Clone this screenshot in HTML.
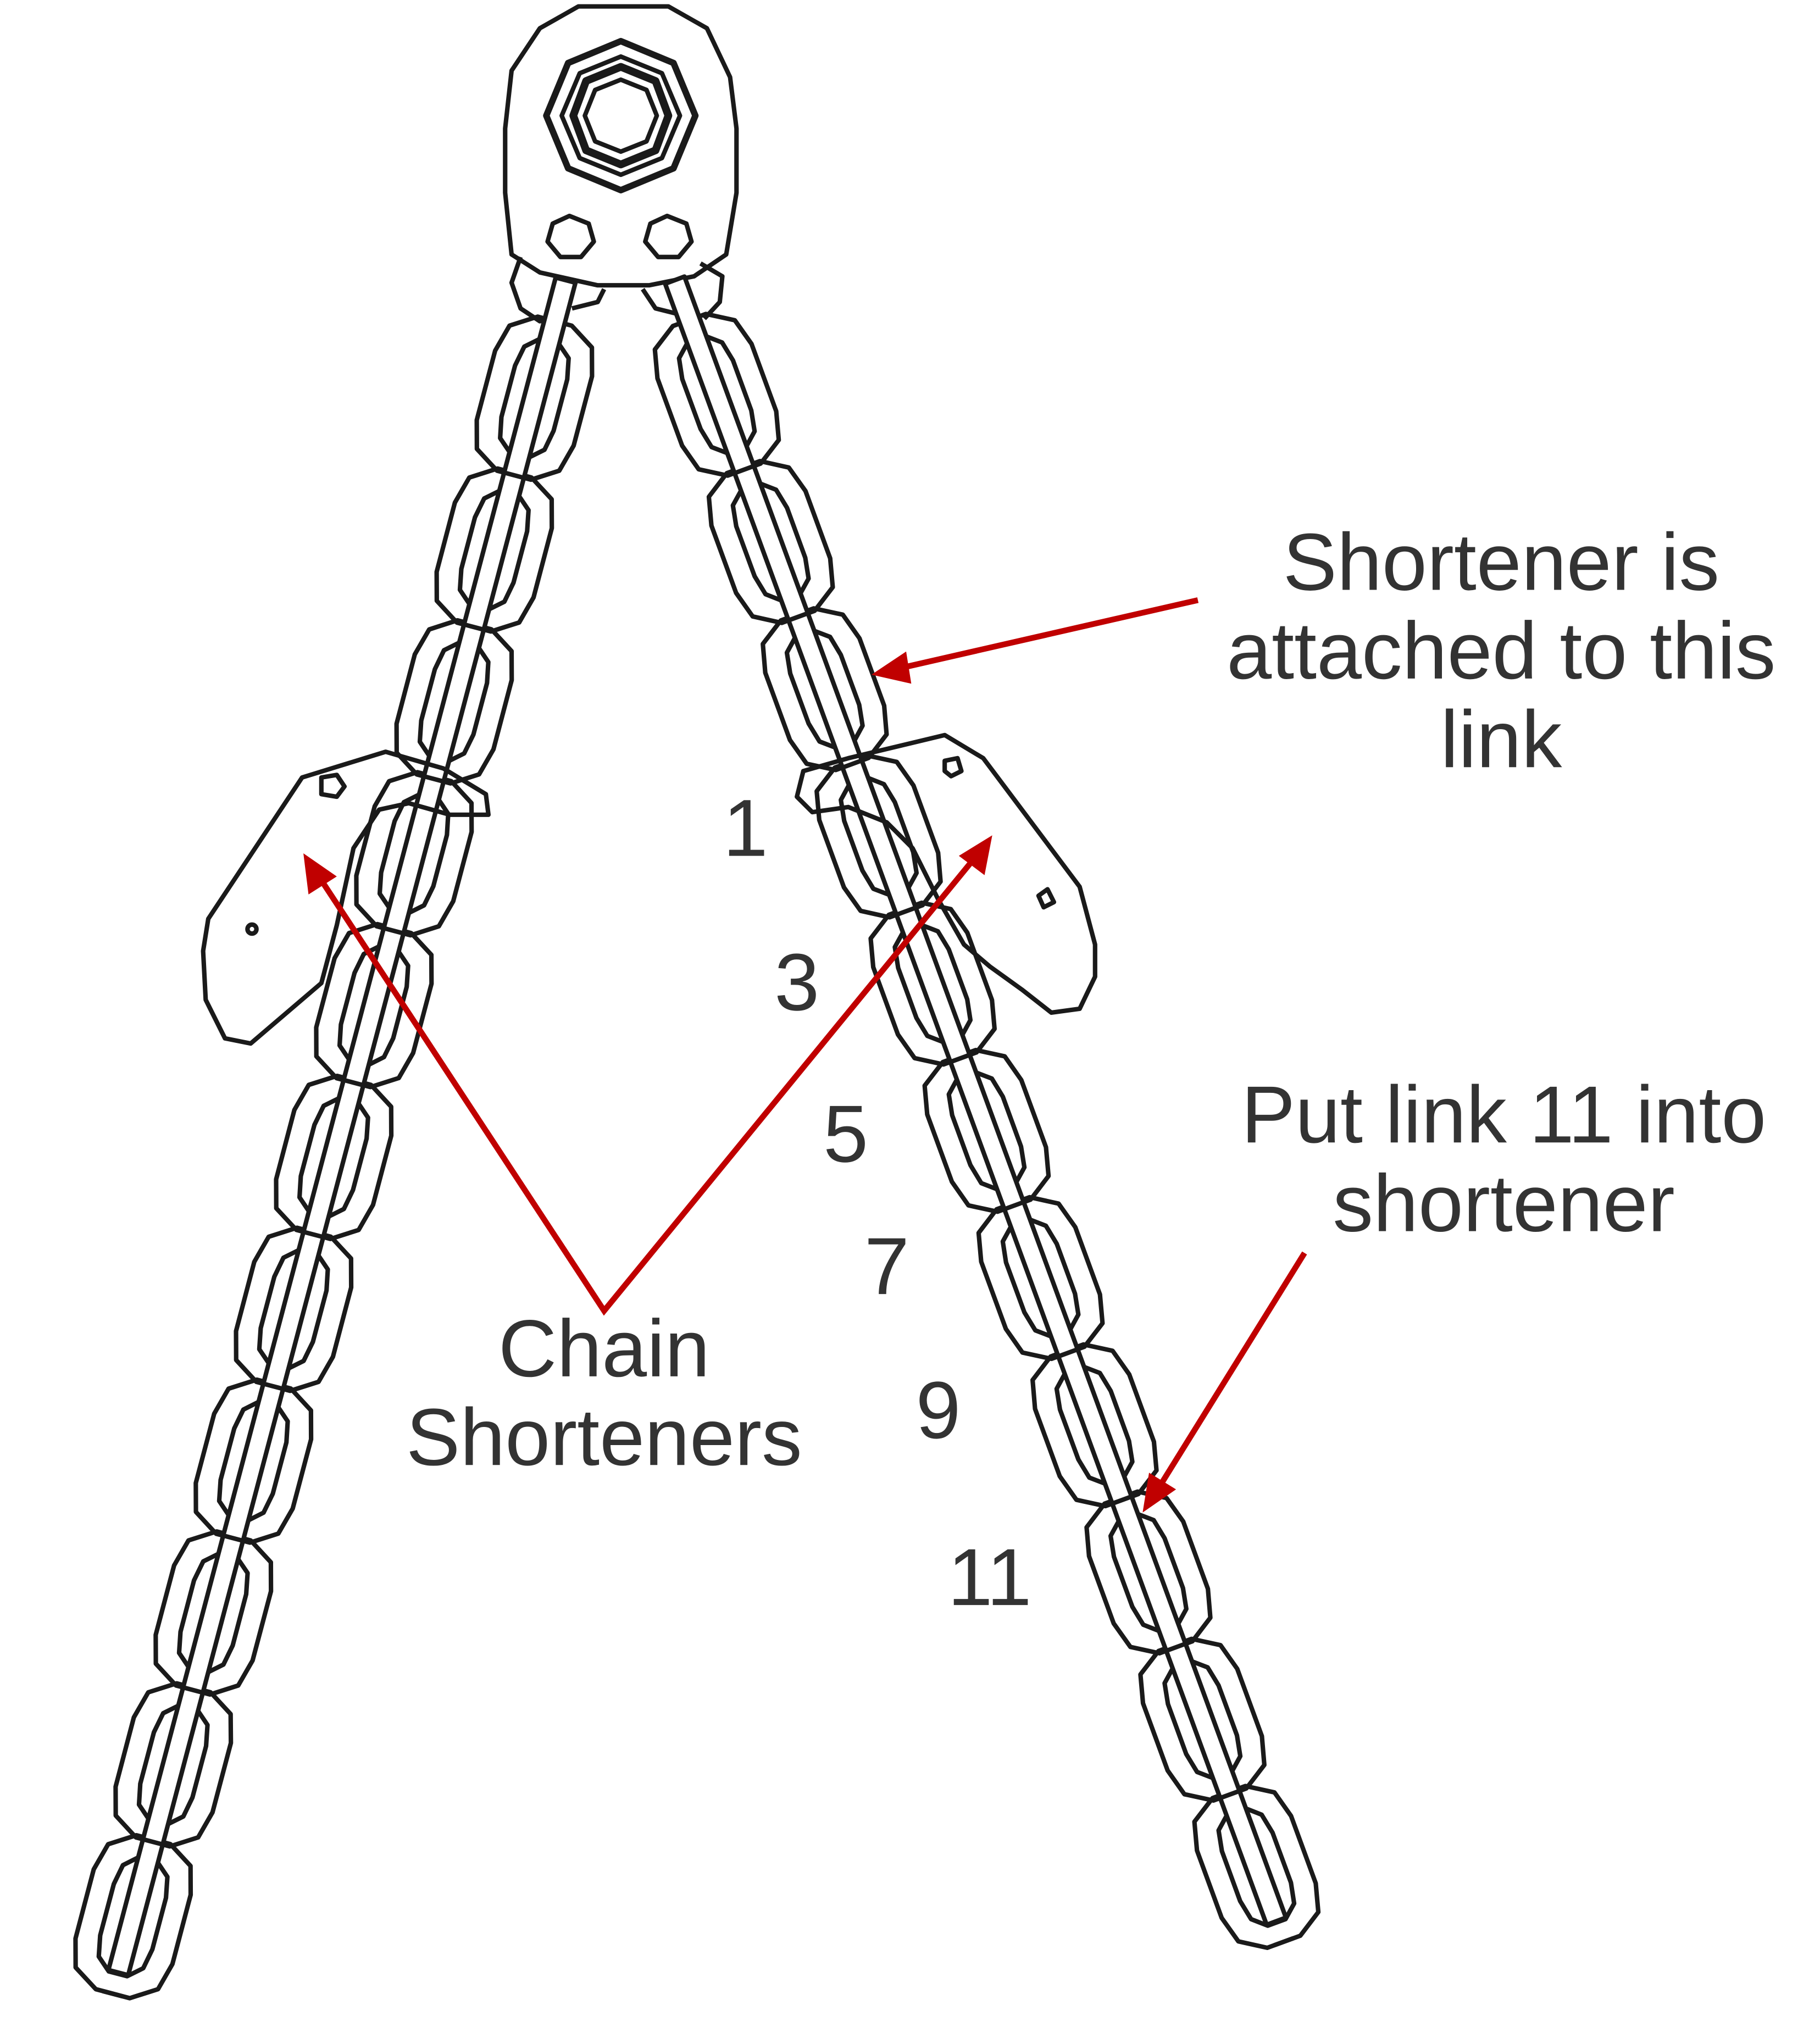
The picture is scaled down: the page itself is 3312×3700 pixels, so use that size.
<!DOCTYPE html>
<html><head><meta charset="utf-8"><style>
html,body{margin:0;padding:0;background:#fff;}
svg{display:block;}
text{font-family:"Liberation Sans",sans-serif;fill:#333;}
</style></head><body>
<svg id="s" width="3312" height="3700" viewBox="0 0 1416 1582" xmlns="http://www.w3.org/2000/svg">
<g fill="none" stroke="#1a1a1a" stroke-width="3.5" stroke-linejoin="round">
  <path d="M420,22 L450,5 L520,5 L550,22 L568,60 L573,100 L573,150 L565,198 L540,215 L505,222 L465,222 L420,212 L398,198 L393,150 L393,100 L398,55 Z" fill="#fff"/>
  <polygon points="483,32 524,49 541,90 524,131 483,148 442,131 425,90 442,49" stroke-width="5"/>
  <polygon points="483,44 515,57 529,90 515,123 483,136 451,123 437,90 451,57"/>
  <polygon points="483,52 510,63 520,90 510,117 483,128 456,117 446,90 456,63" stroke-width="6"/>
  <polygon points="483,62 503,70 511,90 503,110 483,118 463,110 455,90 463,70"/>
  <polygon points="443,168 458,174 462,188 452,200 436,200 426,188 430,174"/>
  <polygon points="519,168 534,174 538,188 528,200 512,200 502,188 506,174"/>
  <path d="M405,200 L398,220 L405,240 L420,250 L440,245"/>
  <path d="M445,240 L465,235 L470,225"/>
  <path d="M500,225 L510,240 L530,245"/>
  <path d="M545,205 L562,215 L560,235 L548,248"/>
</g>
<g id="chains" fill="none" stroke="#1a1a1a" stroke-width="3.5" stroke-linejoin="round"></g>
<g fill="#fff" stroke="#1a1a1a" stroke-width="3.5" stroke-linejoin="round">
  <path d="M235,605 L300,585 L345,598 L378,618 L380,634 L350,634 L318,625 L295,630 L275,660 L262,720 L250,765 L195,812 L175,808 L160,778 L158,740 L162,715 Z" fill="none"/>
  <polygon points="250,605 262,603 268,612 262,620 250,618" />
  <circle cx="196" cy="723" r="3.5"/>
  <path d="M625,600 L660,590 L735,572 L765,590 L840,690 L852,735 L852,760 L840,785 L818,788 L795,770 L770,752 L750,735 L730,700 L710,660 L690,640 L660,628 L632,632 L620,620 Z" fill="none"/>
  <polygon points="735,592 745,590 748,600 740,604 735,600"/>
  <polygon points="808,697 815,692 820,702 812,706"/>
</g>
<g stroke="#c00000" stroke-width="4.5" fill="none">
  <line x1="932" y1="467" x2="700" y2="520"/>
  <polyline points="250,685 470,1020 758,668"/>
  <line x1="1015" y1="975" x2="902" y2="1157"/>
</g>
<g fill="#c00000">
  <polygon points="678,525 705,507 709,532"/>
  <polygon points="236,664 262,682 240,696"/>
  <polygon points="772,650 766,681 746,666"/>
  <polygon points="889,1177 894,1146 915,1159"/>
</g>
<g font-size="63" text-anchor="middle">
  <text x="1168" y="459">Shortener is</text>
  <text x="1168" y="528">attached to this</text>
  <text x="1168" y="597">link</text>
  <text x="1170" y="889">Put link 11 into</text>
  <text x="1170" y="958">shortener</text>
  <text x="470" y="1071">Chain</text>
  <text x="470" y="1140">Shorteners</text>
  <text x="580" y="666">1</text>
  <text x="620" y="786">3</text>
  <text x="658" y="904">5</text>
  <text x="690" y="1007">7</text>
  <text x="730" y="1119">9</text>
  <text x="770" y="1249">11</text>
</g>
</svg>
<script>
(function(){
var g=document.getElementById('chains'),NS='http://www.w3.org/2000/svg';
function oct(cx,cy,ux,uy,L,W){
  var vx=-uy,vy=ux,p=[],pts=[[L,W*0.35],[L*0.8,W*0.85],[L*0.45,W],[-L*0.45,W],[-L*0.8,W*0.85],[-L,W*0.35],[-L,-W*0.35],[-L*0.8,-W*0.85],[-L*0.45,-W],[L*0.45,-W],[L*0.8,-W*0.85],[L,-W*0.35]];
  pts.forEach(function(q){p.push((cx+ux*q[0]+vx*q[1]).toFixed(1)+','+(cy+uy*q[0]+vy*q[1]).toFixed(1));});
  var e=document.createElementNS(NS,'polygon');e.setAttribute('points',p.join(' '));return e;
}
function chain(x0,y0,x1,y1,n){
  var dx=x1-x0,dy=y1-y0,len=Math.sqrt(dx*dx+dy*dy),ux=dx/len,uy=dy/len,vx=-uy,vy=ux;
  for(var i=0;i<n;i++){
    var t=(95+i*(len-140)/(n-1)),cx=x0+ux*t,cy=y0+uy*t;
    g.appendChild(oct(cx,cy,ux,uy,62,39));
    g.appendChild(oct(cx,cy,ux,uy,46,21));
  }
  var w=8,p=[[x0+vx*w,y0+vy*w],[x1+vx*w,y1+vy*w],[x1-vx*w,y1-vy*w],[x0-vx*w,y0-vy*w]];
  var r=document.createElementNS(NS,'polygon');
  r.setAttribute('points',p.map(function(a){return a[0].toFixed(1)+','+a[1].toFixed(1)}).join(' '));
  r.setAttribute('fill','#fff');g.appendChild(r);
  for(var j=0;j<n;j++){
    var t2=(95+j*(len-140)/(n-1))+62,cx2=x0+ux*t2,cy2=y0+uy*t2;
    var l=document.createElementNS(NS,'line');
    l.setAttribute('x1',cx2+vx*w);l.setAttribute('y1',cy2+vy*w);
    l.setAttribute('x2',cx2-vx*w);l.setAttribute('y2',cy2-vy*w);g.appendChild(l);
  }
}
chain(440,218,92,1535,11);
chain(525,218,993,1495,11);
})();
</script>
</body></html>
